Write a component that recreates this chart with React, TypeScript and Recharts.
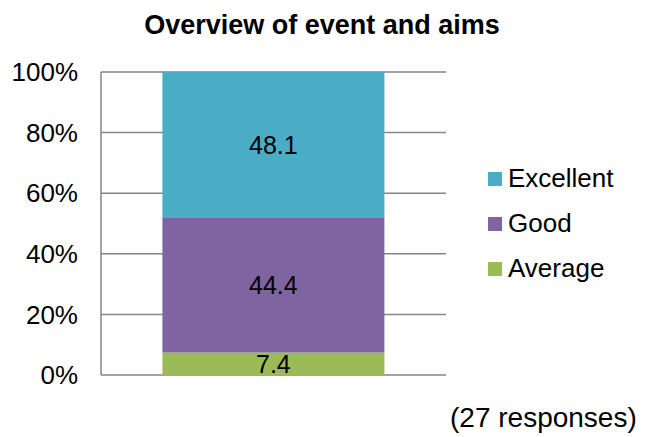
import React from "react";
import { BarChart, Bar, XAxis, YAxis, CartesianGrid, Legend, LabelList } from "recharts";

const categories = ["Overview of event and aims"];
const averageValues = [7.4];
const goodValues = [44.4];
const excellentValues = [48.1];
const yTicks = [0, 0.2, 0.4, 0.6, 0.8, 1];

const series = [
  { key: "excellent", name: "Excellent", color: "#4BACC6" },
  { key: "good", name: "Good", color: "#8064A2" },
  { key: "average", name: "Average", color: "#9BBB59" },
];

const data = categories.map((c, i) => ({
  name: c,
  average: averageValues[i],
  good: goodValues[i],
  excellent: excellentValues[i],
}));

const font = "'Liberation Sans', Arial, sans-serif";

const renderLegend = () => (
  <div style={{ fontFamily: font, fontSize: 26, color: "#000", textAlign: "left" }}>
    {series.map((s) => (
      <div key={s.key} style={{ display: "flex", alignItems: "center", height: 45 }}>
        <span style={{ width: 14, height: 14, background: s.color, marginRight: 6, flex: "none" }} />
        <span>{s.name}</span>
      </div>
    ))}
  </div>
);

const App: React.FC = () => {
  return (
    <div style={{ position: "absolute", left: 0, top: 0, width: 645, height: 437, background: "#fff" }}>
      <div
        style={{
          position: "absolute",
          left: 0,
          width: 644,
          top: 10,
          textAlign: "center",
          fontFamily: font,
          fontWeight: "bold",
          fontSize: 27,
          lineHeight: "30px",
        }}
      >
        Overview of event and aims
      </div>
      <BarChart
        width={645}
        height={437}
        data={data}
        stackOffset="expand"
        barCategoryGap="17.8%"
        margin={{ top: 72, right: 199, left: 0, bottom: 62 }}
      >
        <CartesianGrid vertical={false} stroke="#868686" strokeWidth={1.5} />
        <XAxis dataKey="name" hide />
        <YAxis
          width={101}
          ticks={yTicks}
          domain={[0, 1]}
          tickFormatter={(v: number) => `${Math.round(v * 100)}%`}
          tickLine={false}
          tickSize={6}
          tickMargin={17}
          axisLine={{ stroke: "#868686", strokeWidth: 1.5 }}
          tick={{ fill: "#000", fontSize: 26, fontFamily: font }}
        />
        <Legend
          layout="horizontal"
          align="center"
          verticalAlign="middle"
          content={renderLegend}
          wrapperStyle={{ left: 488, top: 156, width: 155 }}
        />
        <Bar dataKey="average" name="Average" stackId="a" fill="#9BBB59" isAnimationActive={false}>
          <LabelList dataKey="average" position="center" fill="#000" fontSize={25} fontFamily={font} />
        </Bar>
        <Bar dataKey="good" name="Good" stackId="a" fill="#8064A2" isAnimationActive={false}>
          <LabelList dataKey="good" position="center" fill="#000" fontSize={25} fontFamily={font} />
        </Bar>
        <Bar dataKey="excellent" name="Excellent" stackId="a" fill="#4BACC6" isAnimationActive={false}>
          <LabelList dataKey="excellent" position="center" fill="#000" fontSize={25} fontFamily={font} />
        </Bar>
      </BarChart>
      <div
        style={{
          position: "absolute",
          left: 450,
          top: 402,
          fontFamily: font,
          fontSize: 28,
          lineHeight: "32px",
        }}
      >
        (27 responses)
      </div>
    </div>
  );
};

export default App;
